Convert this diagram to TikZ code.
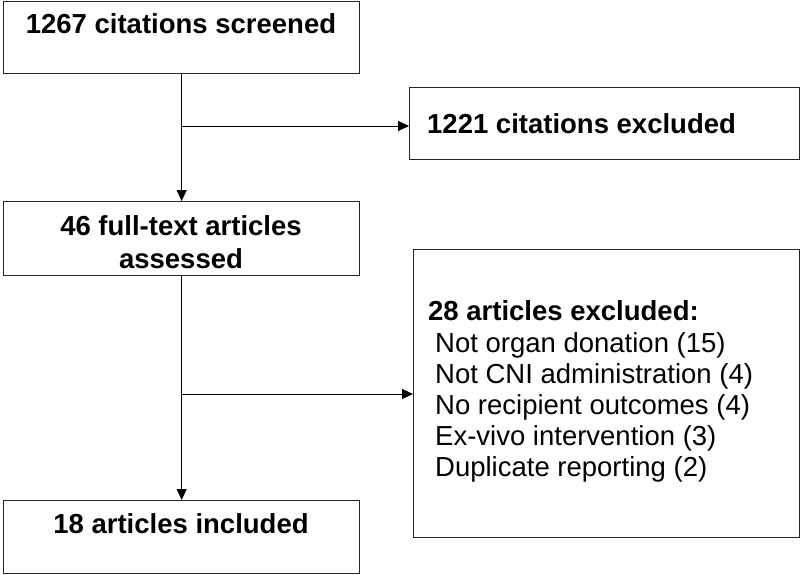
\documentclass[tikz,border=0pt]{standalone}
\usepackage{fontspec}
\setmainfont{Liberation Sans}
\usetikzlibrary{arrows.meta}
\begin{document}
\begin{tikzpicture}[x=1pt,y=-1pt,
  box/.style={draw=black!85, line width=1.3pt, anchor=north west, inner sep=0pt},
  lbl/.style={font=\fontsize{27.5}{31}\selectfont\bfseries, anchor=base, inner sep=0pt},
  lblw/.style={font=\fontsize{27.5}{31}\selectfont\bfseries, anchor=base west, inner sep=0pt},
  item/.style={font=\fontsize{27.5}{31}\selectfont, anchor=base west, inner sep=0pt},
  arr/.style={line width=0.9pt, -{Triangle[length=11pt,width=10pt]}}]
\useasboundingbox (0,0) rectangle (800,575);
% boxes
\node[box, minimum width=356pt, minimum height=72pt] (b1) at (3,1) {};
\node[box, minimum width=390pt, minimum height=72pt] (b2) at (409,87) {};
\node[box, minimum width=356pt, minimum height=74pt] (b3) at (3,201) {};
\node[box, minimum width=386pt, minimum height=288pt] (b4) at (413,249) {};
\node[box, minimum width=356pt, minimum height=73pt] (b5) at (3,500) {};
% texts
\node[lbl] (t1) at (181,34) {1267 citations screened};
\node[lblw] (t2) at (427,134) {1221 citations excluded};
\node[lbl] (t3a) at (181,235) {46 full-text articles};
\node[lbl] (t3b) at (181,268) {assessed};
\node[lbl] (t5) at (181,533) {18 articles included};
\node[lblw] (t4) at (428,320) {28 articles excluded:};
\node[item] (r1) at (435,352) {Not organ donation (15)};
\node[item] (r2) at (435,383) {Not CNI administration (4)};
\node[item] (r3) at (435,414) {No recipient outcomes (4)};
\node[item] (r4) at (435,445) {Ex-vivo intervention (3)};
\node[item] (r5) at (435,476) {Duplicate reporting (2)};
% connectors
\coordinate (j1) at (b1.south |- 0,126);
\coordinate (j2) at (b3.south |- 0,394);
\draw[arr] (b1.south) -- (b3.north);
\draw[arr] (j1) -- (j1 -| b2.west);
\draw[arr] (b3.south) -- (b5.north);
\draw[arr] (j2) -- (j2 -| b4.west);
\end{tikzpicture}
\end{document}
